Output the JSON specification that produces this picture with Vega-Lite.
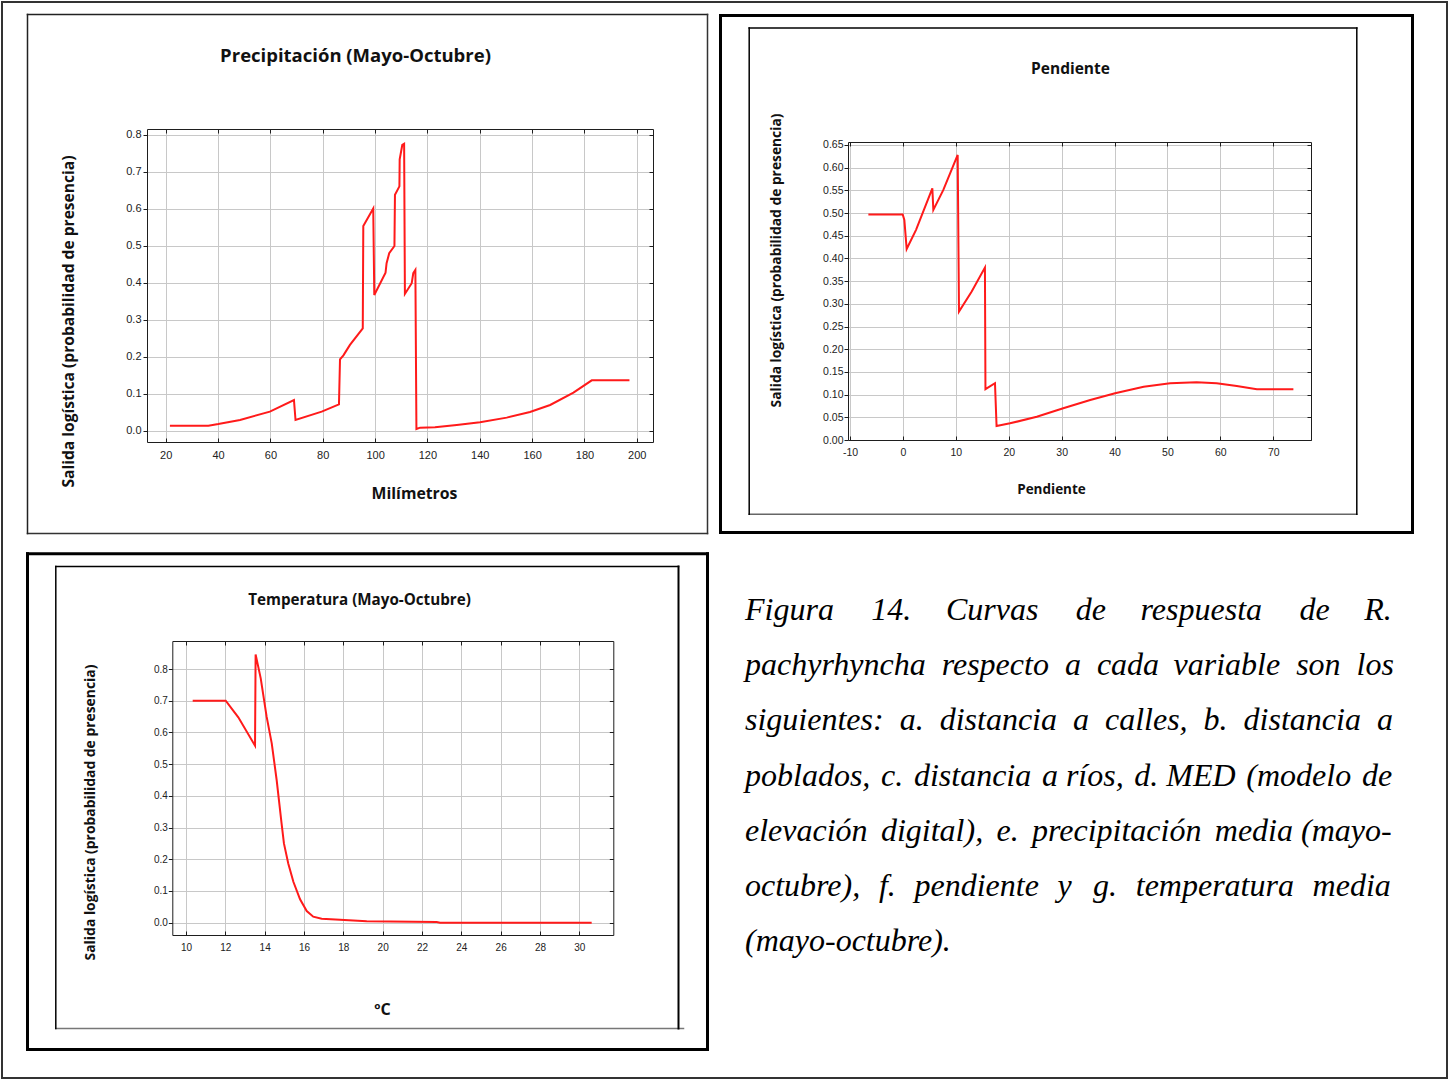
{
  "$schema": "https://vega.github.io/schema/vega-lite/v6.json",
  "autosize": {"type": "none"},
  "width": 1445,
  "height": 1076,
  "padding": {"left": 2, "top": 2, "right": 2, "bottom": 3},
  "background": "white",
  "view": {"stroke": "#333333", "strokeWidth": 2},
  "config": {
    "axis": {
      "domainColor": "#1e1e1e",
      "domainWidth": 1,
      "tickColor": "#1e1e1e",
      "tickSize": 4,
      "gridColor": "#c8c8c8",
      "gridWidth": 1,
      "labelFont": "Liberation Sans",
      "labelColor": "#222222",
      "labelFlush": false,
      "labelOverlap": false,
      "titleFont": "Open Sans",
      "titleFontWeight": "bold",
      "titleColor": "#111111"
    }
  },
  "datasets": {
    "precipitacion": [
      {"x": 21.6, "y": 0.0137}, {"x": 36.3, "y": 0.0137}, {"x": 40.1, "y": 0.018}, {"x": 48.4, "y": 0.029},
      {"x": 59.8, "y": 0.0515}, {"x": 69.0, "y": 0.083}, {"x": 69.6, "y": 0.029}, {"x": 79.6, "y": 0.0515},
      {"x": 86.2, "y": 0.071}, {"x": 86.6, "y": 0.193}, {"x": 87.9, "y": 0.204}, {"x": 90.4, "y": 0.232},
      {"x": 95.3, "y": 0.277}, {"x": 95.5, "y": 0.554}, {"x": 99.3, "y": 0.601}, {"x": 99.7, "y": 0.367},
      {"x": 104.0, "y": 0.4275}, {"x": 104.4, "y": 0.453}, {"x": 105.4, "y": 0.48}, {"x": 107.4, "y": 0.4996},
      {"x": 107.6, "y": 0.638}, {"x": 109.3, "y": 0.661}, {"x": 109.4, "y": 0.734}, {"x": 110.4, "y": 0.773},
      {"x": 111.1, "y": 0.776}, {"x": 111.4, "y": 0.37}, {"x": 114.0, "y": 0.399}, {"x": 114.6, "y": 0.426},
      {"x": 115.4, "y": 0.435}, {"x": 115.8, "y": 0.0046}, {"x": 117.2, "y": 0.0082}, {"x": 122.9, "y": 0.0092},
      {"x": 131.2, "y": 0.0155}, {"x": 140.1, "y": 0.0227}, {"x": 150.3, "y": 0.0353}, {"x": 159.2, "y": 0.0506},
      {"x": 166.9, "y": 0.0695}, {"x": 175.8, "y": 0.1029}, {"x": 182.8, "y": 0.1363}, {"x": 197.2, "y": 0.1363}
    ],
    "pendiente": [
      {"x": -6.53, "y": 0.497}, {"x": -0.04, "y": 0.497}, {"x": 0.27, "y": 0.485}, {"x": 0.71, "y": 0.421},
      {"x": 2.48, "y": 0.463}, {"x": 5.56, "y": 0.5546}, {"x": 5.75, "y": 0.507}, {"x": 7.64, "y": 0.551},
      {"x": 10.35, "y": 0.628}, {"x": 10.6, "y": 0.283}, {"x": 13.0, "y": 0.327}, {"x": 15.5, "y": 0.38},
      {"x": 15.6, "y": 0.112}, {"x": 17.4, "y": 0.125}, {"x": 17.7, "y": 0.031}, {"x": 20.25, "y": 0.0367},
      {"x": 25.3, "y": 0.0514}, {"x": 30.3, "y": 0.0698}, {"x": 35.4, "y": 0.0881}, {"x": 40.1, "y": 0.1028},
      {"x": 45.5, "y": 0.1175}, {"x": 50.5, "y": 0.1249}, {"x": 55.5, "y": 0.1271}, {"x": 59.3, "y": 0.1249},
      {"x": 63.1, "y": 0.119}, {"x": 66.9, "y": 0.1117}, {"x": 73.8, "y": 0.1117}
    ],
    "temperatura": [
      {"x": 10.34, "y": 0.7}, {"x": 12.02, "y": 0.7}, {"x": 12.66, "y": 0.6475}, {"x": 13.51, "y": 0.558},
      {"x": 13.54, "y": 0.846}, {"x": 13.8, "y": 0.7705}, {"x": 14.1, "y": 0.6496}, {"x": 14.36, "y": 0.5655},
      {"x": 14.61, "y": 0.45}, {"x": 14.86, "y": 0.313}, {"x": 14.98, "y": 0.25}, {"x": 15.2, "y": 0.187},
      {"x": 15.46, "y": 0.129}, {"x": 15.8, "y": 0.0736}, {"x": 16.14, "y": 0.0368}, {"x": 16.47, "y": 0.0189},
      {"x": 16.9, "y": 0.0126}, {"x": 17.83, "y": 0.0095}, {"x": 19.19, "y": 0.0042}, {"x": 22.75, "y": 0.0021},
      {"x": 22.92, "y": 0.0}, {"x": 30.63, "y": 0.0}
    ],
    "leyenda": [
      {"linea": 1, "texto": "Figura \u2002\u2004\u200a14. \u2002\u2004Curvas \u2002\u2004\u200ade \u2002\u2004respuesta \u2002\u2004\u200ade \u2002\u2004R."},
      {"linea": 2, "texto": "pachyrhyncha \u2005respecto \u2005a \u2005cada \u2009variable \u2005son \u2005los"},
      {"linea": 3, "texto": "siguientes: \u2005a. \u2005distancia \u2005a \u2005calles, \u2005b. \u2005distancia \u2005a"},
      {"linea": 4, "texto": "poblados, \u200ac. \u200adistancia \u200aa ríos, \u200ad. MED \u200a(modelo \u200ade"},
      {"linea": 5, "texto": "elevación \u2006digital), \u2006e. \u2006precipitación \u2006media (mayo-"},
      {"linea": 6, "texto": "octubre), \u2004f. \u2004pendiente \u2004y \u2004\u200ag. \u2004temperatura \u2004media"},
      {"linea": 7, "texto": "(mayo-octubre)."}
    ]
  },
  "resolve": {"scale": {"x": "independent", "y": "independent"}},
  "layer": [
    {
      "data": {"name": "precipitacion"},
      "mark": {"type": "line", "opacity": 0},
      "encoding": {
        "x": {"field": "x", "type": "quantitative", "scale": {"domain": [0, 1], "range": [25, 705], "nice": false, "zero": false},
          "axis": {"orient": "bottom", "offset": -545, "ticks": false, "labels": false, "grid": false, "title": null, "domainColor": "#333333", "domainWidth": 1.5, "domainCap": "square"}},
        "y": {"field": "y", "type": "quantitative", "scale": {"domain": [0, 1], "range": [531, 12], "nice": false, "zero": false},
          "axis": {"orient": "left", "offset": -25, "ticks": false, "labels": false, "grid": false, "title": null, "domainColor": "#222222", "domainWidth": 1.5, "domainCap": "square"}}
      }
    },
    {
      "data": {"name": "precipitacion"},
      "mark": {"type": "line", "opacity": 0},
      "encoding": {
        "x": {"field": "x", "type": "quantitative", "scale": {"domain": [0, 1], "range": [25, 705], "nice": false, "zero": false},
          "axis": {"orient": "top", "offset": -12, "ticks": false, "labels": false, "grid": false, "title": null, "domainColor": "#222222", "domainWidth": 1.5, "domainCap": "square"}},
        "y": {"field": "y", "type": "quantitative", "scale": {"domain": [0, 1], "range": [531, 12], "nice": false, "zero": false},
          "axis": {"orient": "right", "offset": -740, "ticks": false, "labels": false, "grid": false, "title": null, "domainColor": "#333333", "domainWidth": 1.5, "domainCap": "square"}}
      }
    },
    {
      "data": {"name": "precipitacion"},
      "mark": {"type": "line", "opacity": 0},
      "encoding": {
        "x": {"field": "x", "type": "quantitative",
          "scale": {"domain": [12.85, 206.2], "range": [145, 651], "nice": false, "zero": false},
          "axis": {"orient": "top", "offset": -127, "values": [20, 40, 60, 80, 100, 120, 140, 160, 180, 200],
            "labels": false, "tickSize": -4, "grid": true,
            "title": "Precipitación (Mayo-Octubre)", "titleX": 353, "titleY": -74,
            "titleAlign": "center", "titleBaseline": "middle", "titleFontSize": 18.5}},
        "y": {"field": "y", "type": "quantitative",
          "scale": {"domain": [-0.0306, 0.8162], "range": [440, 127], "nice": false, "zero": false},
          "axis": {"orient": "right", "offset": -794, "values": [0, 0.1, 0.2, 0.3, 0.4, 0.5, 0.6, 0.7, 0.8],
            "labels": false, "tickSize": -4, "grid": false, "title": null}}
      }
    },
    {
      "data": {"name": "precipitacion"},
      "mark": {"type": "line", "color": "#ff1a1a", "strokeWidth": 2},
      "encoding": {
        "x": {"field": "x", "type": "quantitative",
          "scale": {"domain": [12.85, 206.2], "range": [145, 651], "nice": false, "zero": false},
          "axis": {"orient": "bottom", "offset": -636, "values": [20, 40, 60, 80, 100, 120, 140, 160, 180, 200],
            "format": "d", "grid": false, "tickSize": -4, "labelPadding": 11, "labelFontSize": 11,
            "title": "Milímetros", "titleX": 412, "titleY": 51,
            "titleAlign": "center", "titleBaseline": "middle", "titleFontSize": 15.8}},
        "y": {"field": "y", "type": "quantitative",
          "scale": {"domain": [-0.0306, 0.8162], "range": [440, 127], "nice": false, "zero": false},
          "axis": {"orient": "left", "offset": -145, "values": [0, 0.1, 0.2, 0.3, 0.4, 0.5, 0.6, 0.7, 0.8],
            "format": ".1f", "grid": true, "tickSize": 4, "labelPadding": 2, "labelFontSize": 11,
            "title": "Salida logística (probabilidad de presencia)", "titleX": -79, "titleY": 319,
            "titleAngle": 270, "titleAlign": "center", "titleBaseline": "middle", "titleFontSize": 15.6}}
      }
    },
    {
      "data": {"name": "pendiente"},
      "mark": {"type": "line", "opacity": 0},
      "encoding": {
        "x": {"field": "x", "type": "quantitative", "scale": {"domain": [0, 1], "range": [718, 1410], "nice": false, "zero": false},
          "axis": {"orient": "bottom", "offset": -546, "ticks": false, "labels": false, "grid": false, "title": null, "domainColor": "#000000", "domainWidth": 3, "domainCap": "square"}},
        "y": {"field": "y", "type": "quantitative", "scale": {"domain": [0, 1], "range": [530, 13], "nice": false, "zero": false},
          "axis": {"orient": "left", "offset": -718, "ticks": false, "labels": false, "grid": false, "title": null, "domainColor": "#000000", "domainWidth": 3, "domainCap": "square"}}
      }
    },
    {
      "data": {"name": "pendiente"},
      "mark": {"type": "line", "opacity": 0},
      "encoding": {
        "x": {"field": "x", "type": "quantitative", "scale": {"domain": [0, 1], "range": [718, 1410], "nice": false, "zero": false},
          "axis": {"orient": "top", "offset": -13, "ticks": false, "labels": false, "grid": false, "title": null, "domainColor": "#000000", "domainWidth": 3, "domainCap": "square"}},
        "y": {"field": "y", "type": "quantitative", "scale": {"domain": [0, 1], "range": [530, 13], "nice": false, "zero": false},
          "axis": {"orient": "right", "offset": -35, "ticks": false, "labels": false, "grid": false, "title": null, "domainColor": "#000000", "domainWidth": 3, "domainCap": "square"}}
      }
    },
    {
      "data": {"name": "pendiente"},
      "mark": {"type": "line", "opacity": 0},
      "encoding": {
        "x": {"field": "x", "type": "quantitative", "scale": {"domain": [0, 1], "range": [746.7, 1354.3], "nice": false, "zero": false},
          "axis": {"orient": "bottom", "offset": -564.3, "ticks": false, "labels": false, "grid": false, "title": null, "domainColor": "#666666", "domainWidth": 1.5, "domainCap": "square"}},
        "y": {"field": "y", "type": "quantitative", "scale": {"domain": [0, 1], "range": [511.7, 25.5], "nice": false, "zero": false},
          "axis": {"orient": "left", "offset": -746.7, "ticks": false, "labels": false, "grid": false, "title": null, "domainColor": "#000000", "domainWidth": 1.5, "domainCap": "square"}}
      }
    },
    {
      "data": {"name": "pendiente"},
      "mark": {"type": "line", "opacity": 0},
      "encoding": {
        "x": {"field": "x", "type": "quantitative", "scale": {"domain": [0, 1], "range": [746.7, 1354.3], "nice": false, "zero": false},
          "axis": {"orient": "top", "offset": -25.5, "ticks": false, "labels": false, "grid": false, "title": null, "domainColor": "#000000", "domainWidth": 1.5, "domainCap": "square"}},
        "y": {"field": "y", "type": "quantitative", "scale": {"domain": [0, 1], "range": [511.7, 25.5], "nice": false, "zero": false},
          "axis": {"orient": "right", "offset": -90.7, "ticks": false, "labels": false, "grid": false, "title": null, "domainColor": "#000000", "domainWidth": 1.5, "domainCap": "square"}}
      }
    },
    {
      "data": {"name": "pendiente"},
      "mark": {"type": "line", "opacity": 0},
      "encoding": {
        "x": {"field": "x", "type": "quantitative",
          "scale": {"domain": [-10.38, 77.13], "range": [846, 1309], "nice": false, "zero": false},
          "axis": {"orient": "top", "offset": -140, "values": [-10, 0, 10, 20, 30, 40, 50, 60, 70],
            "labels": false, "tickSize": -4, "grid": true,
            "title": "Pendiente", "titleX": 1068, "titleY": -74,
            "titleAlign": "center", "titleBaseline": "middle", "titleFontSize": 15.5}},
        "y": {"field": "y", "type": "quantitative",
          "scale": {"domain": [0, 0.6566], "range": [438, 140], "nice": false, "zero": false},
          "axis": {"orient": "right", "offset": -136, "values": [0, 0.05, 0.1, 0.15, 0.2, 0.25, 0.3, 0.35, 0.4, 0.45, 0.5, 0.55, 0.6, 0.65],
            "labels": false, "tickSize": -4, "grid": false, "title": null}}
      }
    },
    {
      "data": {"name": "pendiente"},
      "mark": {"type": "line", "color": "#ff1a1a", "strokeWidth": 2},
      "encoding": {
        "x": {"field": "x", "type": "quantitative",
          "scale": {"domain": [-10.38, 77.13], "range": [846, 1309], "nice": false, "zero": false},
          "axis": {"orient": "bottom", "offset": -638, "values": [-10, 0, 10, 20, 30, 40, 50, 60, 70],
            "labelExpr": "datum.value + ''", "grid": false, "tickSize": -4, "labelPadding": 11, "labelFontSize": 10.5,
            "title": "Pendiente", "titleX": 1049, "titleY": 49,
            "titleAlign": "center", "titleBaseline": "middle", "titleFontSize": 13.5}},
        "y": {"field": "y", "type": "quantitative",
          "scale": {"domain": [0, 0.6566], "range": [438, 140], "nice": false, "zero": false},
          "axis": {"orient": "left", "offset": -846, "values": [0, 0.05, 0.1, 0.15, 0.2, 0.25, 0.3, 0.35, 0.4, 0.45, 0.5, 0.55, 0.6, 0.65],
            "format": ".2f", "grid": true, "tickSize": 4, "labelPadding": 1, "labelFontSize": 10.5,
            "title": "Salida logística (probabilidad de presencia)", "titleX": -72, "titleY": 258,
            "titleAngle": 270, "titleAlign": "center", "titleBaseline": "middle", "titleFontSize": 13.8}}
      }
    },
    {
      "data": {"name": "temperatura"},
      "mark": {"type": "line", "opacity": 0},
      "encoding": {
        "x": {"field": "x", "type": "quantitative", "scale": {"domain": [0, 1], "range": [25, 705], "nice": false, "zero": false},
          "axis": {"orient": "bottom", "offset": -29, "ticks": false, "labels": false, "grid": false, "title": null, "domainColor": "#000000", "domainWidth": 3, "domainCap": "square"}},
        "y": {"field": "y", "type": "quantitative", "scale": {"domain": [0, 1], "range": [1047, 551.3], "nice": false, "zero": false},
          "axis": {"orient": "left", "offset": -25, "ticks": false, "labels": false, "grid": false, "title": null, "domainColor": "#000000", "domainWidth": 3, "domainCap": "square"}}
      }
    },
    {
      "data": {"name": "temperatura"},
      "mark": {"type": "line", "opacity": 0},
      "encoding": {
        "x": {"field": "x", "type": "quantitative", "scale": {"domain": [0, 1], "range": [25, 705], "nice": false, "zero": false},
          "axis": {"orient": "top", "offset": -551.3, "ticks": false, "labels": false, "grid": false, "title": null, "domainColor": "#000000", "domainWidth": 3, "domainCap": "square"}},
        "y": {"field": "y", "type": "quantitative", "scale": {"domain": [0, 1], "range": [1047, 551.3], "nice": false, "zero": false},
          "axis": {"orient": "right", "offset": -740, "ticks": false, "labels": false, "grid": false, "title": null, "domainColor": "#000000", "domainWidth": 3, "domainCap": "square"}}
      }
    },
    {
      "data": {"name": "temperatura"},
      "mark": {"type": "line", "opacity": 0},
      "encoding": {
        "x": {"field": "x", "type": "quantitative", "scale": {"domain": [0, 1], "range": [53.3, 681], "nice": false, "zero": false},
          "axis": {"orient": "bottom", "offset": -50, "ticks": false, "labels": false, "grid": false, "title": null, "domainColor": "#777777", "domainWidth": 1.5, "domainCap": "square"}},
        "y": {"field": "y", "type": "quantitative", "scale": {"domain": [0, 1], "range": [1026, 564], "nice": false, "zero": false},
          "axis": {"orient": "left", "offset": -53.3, "ticks": false, "labels": false, "grid": false, "title": null, "domainColor": "#000000", "domainWidth": 1.5, "domainCap": "square"}}
      }
    },
    {
      "data": {"name": "temperatura"},
      "mark": {"type": "line", "opacity": 0},
      "encoding": {
        "x": {"field": "x", "type": "quantitative", "scale": {"domain": [0, 1], "range": [53.3, 676], "nice": false, "zero": false},
          "axis": {"orient": "top", "offset": -564, "ticks": false, "labels": false, "grid": false, "title": null, "domainColor": "#000000", "domainWidth": 1.5, "domainCap": "square"}},
        "y": {"field": "y", "type": "quantitative", "scale": {"domain": [0, 1], "range": [1026, 564], "nice": false, "zero": false},
          "axis": {"orient": "right", "offset": -769, "ticks": false, "labels": false, "grid": false, "title": null, "domainColor": "#000000", "domainWidth": 2, "domainCap": "square"}}
      }
    },
    {
      "data": {"name": "temperatura"},
      "mark": {"type": "line", "opacity": 0},
      "encoding": {
        "x": {"field": "x", "type": "quantitative",
          "scale": {"domain": [9.303, 31.73], "range": [170.3, 611.3], "nice": false, "zero": false},
          "axis": {"orient": "top", "offset": -639, "values": [10, 12, 14, 16, 18, 20, 22, 24, 26, 28, 30],
            "labels": false, "tickSize": -4, "grid": true,
            "title": "Temperatura (Mayo-Octubre)", "titleX": 357, "titleY": -42,
            "titleAlign": "center", "titleBaseline": "middle", "titleFontSize": 15.2}},
        "y": {"field": "y", "type": "quantitative",
          "scale": {"domain": [-0.0388, 0.8883], "range": [933, 639], "nice": false, "zero": false},
          "axis": {"orient": "right", "offset": -833.7, "values": [0, 0.1, 0.2, 0.3, 0.4, 0.5, 0.6, 0.7, 0.8],
            "labels": false, "tickSize": -4, "grid": false, "title": null}}
      }
    },
    {
      "data": {"name": "temperatura"},
      "mark": {"type": "line", "color": "#ff1a1a", "strokeWidth": 2},
      "encoding": {
        "x": {"field": "x", "type": "quantitative",
          "scale": {"domain": [9.303, 31.73], "range": [170.3, 611.3], "nice": false, "zero": false},
          "axis": {"orient": "bottom", "offset": -143, "values": [10, 12, 14, 16, 18, 20, 22, 24, 26, 28, 30],
            "format": "d", "grid": false, "tickSize": -4, "labelPadding": 11, "labelFontSize": 10,
            "title": "ºC", "titleX": 380, "titleY": 74,
            "titleAlign": "center", "titleBaseline": "middle", "titleFontSize": 16}},
        "y": {"field": "y", "type": "quantitative",
          "scale": {"domain": [-0.0388, 0.8883], "range": [933, 639], "nice": false, "zero": false},
          "axis": {"orient": "left", "offset": -170.3, "values": [0, 0.1, 0.2, 0.3, 0.4, 0.5, 0.6, 0.7, 0.8],
            "format": ".1f", "grid": true, "tickSize": 4, "labelPadding": 1, "labelFontSize": 10,
            "title": "Salida logística (probabilidad de presencia)", "titleX": -82.3, "titleY": 810,
            "titleAngle": 270, "titleAlign": "center", "titleBaseline": "middle", "titleFontSize": 13.9}}
      }
    },
    {
      "data": {"name": "leyenda"},
      "mark": {"type": "text", "font": "Liberation Serif", "fontStyle": "italic", "fontSize": 32, "align": "left", "baseline": "alphabetic", "color": "#000000"},
      "encoding": {
        "x": {"datum": 0, "type": "quantitative", "scale": {"domain": [0, 1], "range": [743, 1390]}, "axis": null},
        "y": {"field": "linea", "type": "quantitative", "scale": {"domain": [1, 7], "range": [618, 949], "zero": false, "nice": false}, "axis": null},
        "text": {"field": "texto"}
      }
    }
  ]
}
